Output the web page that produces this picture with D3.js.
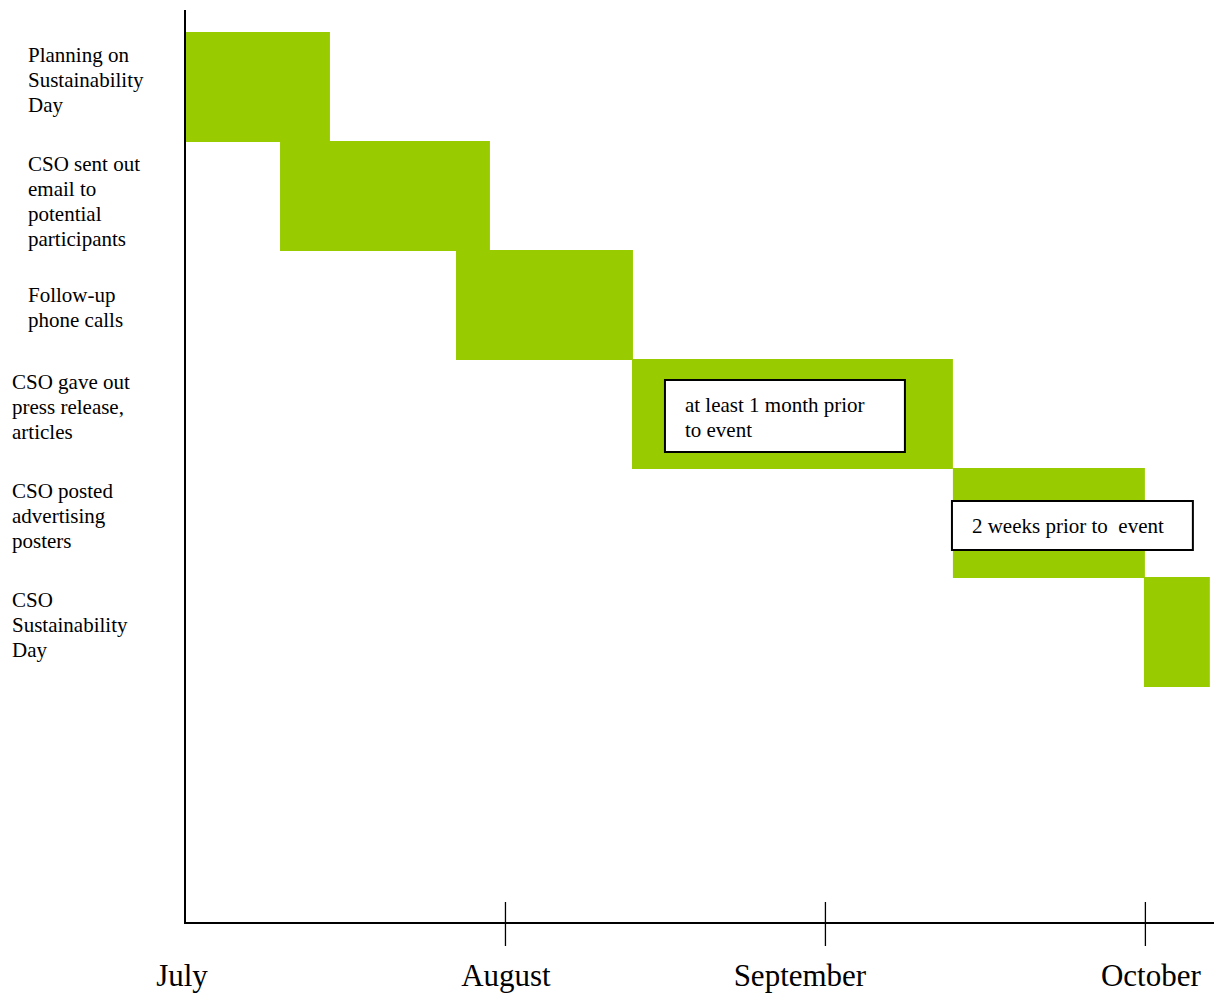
<!DOCTYPE html>
<html>
<head>
<meta charset="utf-8">
<script src="https://cdn.jsdelivr.net/npm/d3@7"></script>
<style>
html,body{margin:0;padding:0;background:#fff;}
svg{display:block;}
svg, text, tspan{font-family:"Liberation Serif","Times New Roman",Times,serif;}
</style>
</head>
<body>
<svg id="chart" width="1214" height="993" font-family="Liberation Serif, Times New Roman, serif"></svg>
<script>
// ---- data ----
const tasks = [
  ["Planning on", "Sustainability", "Day"],
  ["CSO sent out", "email to", "potential", "participants"],
  ["Follow-up", "phone calls"],
  ["CSO gave out", "press release,", "articles"],
  ["CSO posted", "advertising", "posters"],
  ["CSO", "Sustainability", "Day"]
];
// start / end in months after 1 July
const taskStart = [0, 0.297, 0.847, 1.397, 2.4, 2.997];
const taskEnd   = [0.453, 0.953, 1.4, 2.4, 3.0, 3.203];
const monthLabels = ["July", "August", "September", "October"];
const monthValues = [0, 1, 2, 3];
const noteText  = [["at least 1 month prior", "to event"], ["2 weeks prior to  event"]];
const noteTask  = [3, 4];
const noteStart = [1.5, 2.397];
const noteEnd   = [2.25, 3.15];

// ---- layout ----
const FONT = '"Liberation Serif","Times New Roman",serif';
const svg = d3.select("#chart");
const x = d3.scaleLinear().domain([0, 3.216]).range([185, 1214]);
const y = d3.scaleBand().domain(d3.range(tasks.length)).range([32, 32 + 109 * tasks.length]).padding(0);
const green = "#99cc00";
const axisY = 923;

// bars
svg.append("g").selectAll("rect")
  .data(d3.range(tasks.length))
  .join("rect")
  .attr("x", i => x(taskStart[i]))
  .attr("y", i => y(i))
  .attr("width", i => x(taskEnd[i]) - x(taskStart[i]))
  .attr("height", y.bandwidth() + 1)
  .attr("fill", green);

// task labels
const lh = 25;
const lab = svg.append("g").selectAll("text")
  .data(d3.range(tasks.length))
  .join("text")
  .style("font-family", FONT)
  .attr("font-size", 21)
  .attr("x", i => i < 3 ? 28 : 12)
  .attr("y", i => {
    const n = tasks[i].length;
    const first = n >= 3 ? 23 : (y.bandwidth() - n * lh) / 2 + 15;
    return y(i) + first + 7;
  });
lab.each(function(i) {
  const t = d3.select(this);
  tasks[i].forEach((line, k) => {
    t.append("tspan").style("font-family", FONT)
      .attr("x", i < 3 ? 28 : 12).attr("dy", k === 0 ? 0 : lh).text(line);
  });
});

// annotation boxes
const noteY = [21, 33];
const noteH = [72, 49];
const ng = svg.append("g");
noteText.forEach((lines, j) => {
  const bx = x(noteStart[j]), by = y(noteTask[j]) + noteY[j];
  ng.append("rect")
    .attr("x", bx).attr("y", by)
    .attr("width", x(noteEnd[j]) - x(noteStart[j]))
    .attr("height", noteH[j])
    .attr("fill", "#fff").attr("stroke", "#000").attr("stroke-width", 2);
  const t = ng.append("text").style("font-family", FONT).attr("font-size", 21)
    .attr("x", bx + 20).attr("y", by + 32);
  lines.forEach((line, k) => {
    t.append("tspan").style("font-family", FONT)
      .attr("x", bx + 20).attr("dy", k === 0 ? 0 : 25)
      .style("white-space", "pre").text(line);
  });
});

// axes
svg.append("line")
  .attr("x1", 185).attr("x2", 185).attr("y1", 10).attr("y2", axisY + 1)
  .attr("stroke", "#000").attr("stroke-width", 2);
const xAxis = d3.axisBottom(x)
  .tickValues(monthValues.slice(1))
  .tickSize(0)
  .tickFormat("");
const gx = svg.append("g").attr("transform", `translate(0,${axisY})`).call(xAxis);
gx.select(".domain").attr("stroke", "#000").attr("stroke-width", 2)
  .attr("d", `M${x(0)},0H1214`);
gx.selectAll(".tick").append("line")
  .attr("y1", -21).attr("y2", 23).attr("stroke", "#000").attr("stroke-width", 1.3);

// month labels
const dxs = [-3, 1, -25, 6];
svg.append("g").selectAll("text")
  .data(monthValues)
  .join("text")
  .style("font-family", FONT)
  .attr("font-size", 31)
  .attr("text-anchor", "middle")
  .attr("x", (d, i) => x(d) + dxs[i])
  .attr("y", 986)
  .text((d, i) => monthLabels[i]);
</script>
</body>
</html>
